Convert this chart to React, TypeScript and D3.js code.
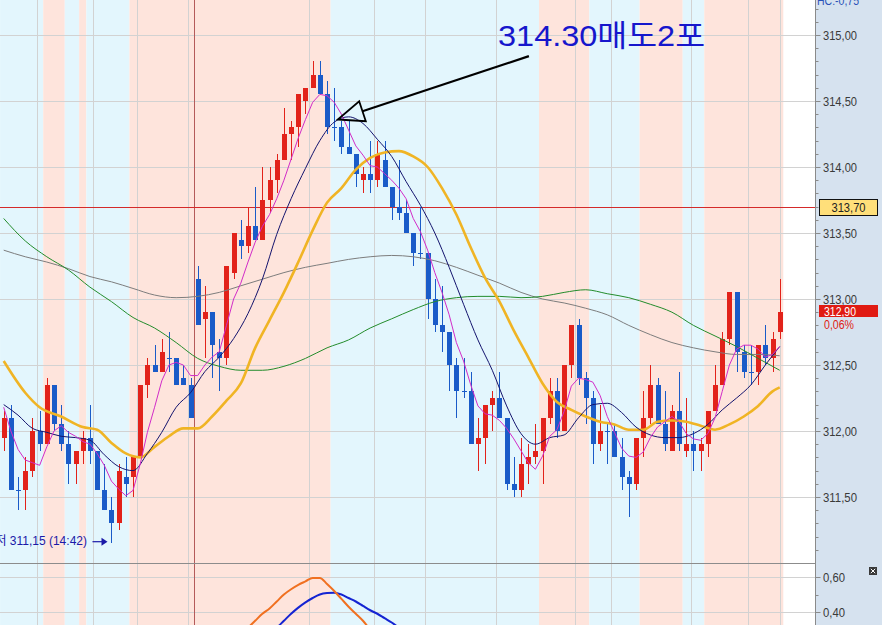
import React from "react";
import * as d3 from "d3";

// KOSPI200-style 1-min candles with moving averages and a sub oscillator panel.

const OPEN = [
  311.95, 312.10, 311.55, 311.55, 311.70, 312.00, 311.90, 312.35, 312.05, 311.90,
  311.75, 311.85, 311.95, 311.85, 311.55, 311.40, 311.30, 311.65, 311.65, 311.80,
  312.35, 312.50, 312.45, 312.55, 312.55, 312.40, 312.35, 313.15, 312.85, 312.90,
  312.60, 312.55, 313.20, 313.45, 313.40, 313.55, 313.45, 313.75, 313.90, 314.05,
  314.25, 314.30, 314.50, 314.60, 314.70, 314.55, 314.30, 314.30, 314.15, 314.10,
  313.90, 313.95, 313.90, 314.05, 313.85, 313.70, 313.65, 313.50, 313.35, 313.35,
  313.00, 312.80, 312.75, 312.50, 312.30, 312.30, 311.90, 311.95, 312.20, 312.25,
  312.10, 311.60, 311.55, 311.75, 311.80, 311.85, 312.10, 312.30, 312.00, 312.50,
  312.80, 312.40, 312.25, 311.90, 312.00, 312.00, 311.80, 311.65, 311.60, 311.95,
  312.10, 312.35, 312.05, 311.85, 312.15, 311.85, 311.90, 311.85, 311.90, 312.15,
  312.35, 312.70, 313.05, 312.60, 312.45, 312.45, 312.65, 312.55, 312.75,
];
const HIGH = [
  312.15, 312.20, 311.65, 311.80, 312.10, 312.15, 312.40, 312.35, 312.20, 312.00,
  311.85, 312.00, 312.20, 311.85, 311.75, 311.50, 311.75, 311.80, 311.80, 312.35,
  312.55, 312.65, 312.70, 312.75, 312.55, 312.50, 312.40, 313.25, 313.10, 312.90,
  312.70, 313.25, 313.50, 313.60, 313.70, 313.85, 314.00, 314.00, 314.10, 314.45,
  314.35, 314.55, 314.60, 314.80, 314.80, 314.65, 314.60, 314.35, 314.35, 314.10,
  314.00, 314.20, 314.20, 314.20, 313.85, 314.05, 313.75, 313.50, 313.70, 313.35,
  313.15, 313.10, 312.75, 312.55, 312.55, 312.45, 312.10, 312.20, 312.30, 312.45,
  312.10, 311.80, 311.95, 311.90, 312.05, 312.10, 312.40, 312.40, 312.50, 312.80,
  312.85, 312.45, 312.30, 312.20, 312.05, 312.05, 311.95, 311.70, 311.95, 312.30,
  312.50, 312.40, 312.30, 312.20, 312.45, 312.25, 312.00, 311.95, 312.15, 312.50,
  312.75, 313.05, 313.05, 312.65, 312.65, 312.65, 312.80, 312.75, 313.15,
];
const LOW = [
  311.85, 311.55, 311.40, 311.40, 311.65, 311.85, 311.90, 312.00, 311.85, 311.60,
  311.60, 311.75, 311.75, 311.55, 311.40, 311.15, 311.25, 311.50, 311.50, 311.80,
  312.25, 312.45, 312.45, 312.45, 312.35, 312.35, 312.10, 312.80, 312.55, 312.40,
  312.30, 312.50, 313.15, 313.30, 313.35, 313.45, 313.45, 313.65, 313.80, 314.05,
  314.05, 314.15, 314.40, 314.60, 314.55, 314.25, 314.20, 314.10, 314.10, 313.85,
  313.80, 313.80, 313.85, 313.85, 313.60, 313.60, 313.50, 313.25, 313.30, 312.85,
  312.75, 312.60, 312.30, 312.10, 312.25, 311.90, 311.70, 311.75, 312.00, 312.10,
  311.55, 311.50, 311.50, 311.60, 311.75, 311.60, 312.05, 311.95, 312.00, 312.40,
  312.35, 312.05, 311.75, 311.85, 311.75, 311.80, 311.55, 311.35, 311.55, 311.80,
  312.05, 312.05, 311.85, 311.85, 311.85, 311.80, 311.70, 311.70, 311.80, 312.15,
  312.35, 312.65, 312.45, 312.40, 312.35, 312.35, 312.50, 312.45, 312.70,
];
const CLOSE = [
  312.10, 311.55, 311.55, 311.70, 312.00, 311.90, 312.35, 312.05, 311.90, 311.75,
  311.85, 311.95, 311.85, 311.55, 311.40, 311.30, 311.70, 311.60, 311.80, 312.35,
  312.50, 312.45, 312.60, 312.55, 312.35, 312.35, 312.10, 312.80, 312.90, 312.65,
  312.55, 313.25, 313.50, 313.40, 313.55, 313.45, 313.75, 313.90, 314.05, 314.25,
  314.30, 314.55, 314.60, 314.70, 314.55, 314.30, 314.30, 314.15, 314.10, 313.95,
  313.95, 313.90, 314.10, 313.85, 313.70, 313.65, 313.50, 313.35, 313.35, 313.00,
  312.80, 312.75, 312.50, 312.30, 312.30, 311.90, 311.95, 312.20, 312.25, 312.10,
  311.60, 311.55, 311.75, 311.80, 311.85, 312.10, 312.30, 312.00, 312.50, 312.80,
  312.40, 312.25, 311.90, 312.00, 312.00, 311.80, 311.65, 311.60, 311.95, 312.10,
  312.35, 312.05, 311.90, 312.15, 311.90, 311.90, 311.85, 311.90, 312.15, 312.35,
  312.70, 313.05, 312.60, 312.45, 312.45, 312.65, 312.55, 312.70, 312.90,
];

// short MA (magenta), one value per candle
const MA5 = [
  312.18, 312.00, 311.86, 311.78, 311.76, 311.74, 311.88, 312.00, 312.04, 311.99,
  311.96, 311.92, 311.90, 311.83, 311.74, 311.62, 311.56, 311.51, 311.55, 311.75,
  311.99, 312.18, 312.38, 312.50, 312.52, 312.50, 312.42, 312.42, 312.50, 312.56,
  312.60, 312.80, 313.00, 313.12, 313.28, 313.43, 313.55, 313.64, 313.76, 313.90,
  314.06, 314.22, 314.36, 314.49, 314.55, 314.54, 314.49, 314.40, 314.28, 314.16,
  314.09, 314.01, 314.00, 313.95, 313.90, 313.84, 313.76, 313.61, 313.51, 313.37,
  313.20, 313.05, 312.88, 312.67, 312.53, 312.35, 312.19, 312.13, 312.12, 312.08,
  312.02, 311.94, 311.85, 311.76, 311.71, 311.81, 311.96, 312.01, 312.15, 312.34,
  312.40, 312.39, 312.37, 312.27, 312.11, 311.99, 311.87, 311.81, 311.80, 311.84,
  311.95, 312.03, 312.07, 312.11, 312.07, 311.98, 311.94, 311.93, 311.98, 312.10,
  312.30, 312.50, 312.62, 312.65, 312.65, 312.62, 312.56, 312.58, 312.64,
];

// [candle index, value]
const MA10: [number, number][] = [
  [0, 312.2], [2, 312.12], [4, 312.02], [6, 311.99], [8, 311.96], [10, 311.95], [12, 311.93],
  [14, 311.82], [16, 311.73], [18, 311.7], [20, 311.83], [22, 311.99], [24, 312.18], [26, 312.29],
  [28, 312.45], [30, 312.56], [32, 312.7], [34, 312.89], [36, 313.15], [38, 313.49], [40, 313.76],
  [42, 313.99], [44, 314.2], [46, 314.34], [48, 314.38], [50, 314.33], [52, 314.21], [54, 314.08],
  [56, 313.89], [58, 313.71], [60, 313.5], [62, 313.24], [64, 312.96], [66, 312.69], [68, 312.46],
  [70, 312.19], [72, 311.98], [74, 311.9], [76, 311.95], [78, 311.97], [80, 312.1], [82, 312.2],
  [84, 312.21], [86, 312.14], [88, 312.03], [90, 311.97], [92, 311.95], [94, 311.95], [96, 311.98],
  [98, 312.05], [100, 312.16], [102, 312.25], [104, 312.35], [106, 312.5], [108, 312.64],
];
const MA20: [number, number][] = [
  [0, 312.53], [3, 312.29], [5, 312.18], [8, 312.11], [11, 312.03], [13, 312.01], [15, 311.91],
  [17, 311.83], [19, 311.8], [21, 311.88], [23, 311.96], [25, 312.02], [27, 312.02], [29, 312.11],
  [31, 312.23], [33, 312.36], [35, 312.63], [37, 312.84], [39, 313.05], [41, 313.28], [43, 313.52],
  [45, 313.73], [47, 313.84], [49, 313.98], [51, 314.07], [53, 314.11], [55, 314.12], [57, 314.08],
  [59, 314.0], [61, 313.84], [63, 313.64], [65, 313.39], [67, 313.16], [69, 312.98], [71, 312.76],
  [73, 312.56], [75, 312.36], [77, 312.22], [79, 312.16], [81, 312.11], [83, 312.07], [85, 312.05],
  [87, 312.01], [89, 312.01], [91, 312.07], [93, 312.08], [95, 312.07], [97, 312.04], [99, 312.01],
  [101, 312.05], [103, 312.11], [105, 312.19], [107, 312.3], [108, 312.33],
];
const MA60: [number, number][] = [
  [0, 313.61], [3, 313.44], [6, 313.32], [9, 313.22], [12, 313.09], [15, 312.98], [18, 312.86],
  [21, 312.78], [24, 312.67], [27, 312.55], [30, 312.49], [33, 312.46], [36, 312.46], [39, 312.49],
  [42, 312.55], [45, 312.63], [48, 312.69], [51, 312.78], [54, 312.85], [57, 312.92], [60, 312.98],
  [63, 313.01], [66, 313.02], [69, 313.02], [72, 313.01], [75, 313.02], [78, 313.05], [81, 313.07],
  [84, 313.04], [87, 313.01], [90, 312.96], [93, 312.9], [96, 312.8], [99, 312.72], [102, 312.64],
  [105, 312.55], [108, 312.46],
];
const MA120: [number, number][] = [
  [0, 313.37], [3, 313.32], [6, 313.28], [9, 313.23], [12, 313.17], [15, 313.13], [18, 313.08],
  [21, 313.03], [24, 313.01], [27, 313.02], [30, 313.05], [33, 313.1], [36, 313.15], [39, 313.2],
  [42, 313.24], [45, 313.27], [48, 313.3], [51, 313.32], [54, 313.33], [57, 313.32], [60, 313.29],
  [63, 313.24], [66, 313.18], [69, 313.12], [72, 313.05], [75, 313.0], [78, 312.97], [81, 312.93],
  [84, 312.88], [87, 312.8], [90, 312.73], [93, 312.67], [96, 312.63], [99, 312.6], [102, 312.58],
  [105, 312.58], [108, 312.57],
];

// sub panel oscillator
const OSC_FAST: [number, number][] = [
  [31, 0.2], [32, 0.24], [33, 0.27], [34, 0.31], [35, 0.35], [36, 0.39], [37, 0.42], [38, 0.46],
  [39, 0.5], [40, 0.53], [41, 0.555], [42, 0.575], [43, 0.595], [44, 0.595], [45, 0.56], [46, 0.52],
  [47, 0.475], [48, 0.43], [49, 0.39], [50, 0.35], [51, 0.3], [52, 0.26], [53, 0.22],
];
const OSC_SLOW: [number, number][] = [
  [34, 0.17], [35, 0.2], [36, 0.24], [37, 0.28], [38, 0.31], [39, 0.35], [40, 0.39], [41, 0.425],
  [42, 0.455], [43, 0.48], [44, 0.5], [45, 0.508], [46, 0.51], [47, 0.5], [48, 0.48], [49, 0.46],
  [50, 0.435], [51, 0.41], [52, 0.39], [53, 0.365], [54, 0.34], [55, 0.31], [56, 0.28], [57, 0.25],
];

// background regime bands [from, to, kind] in candle-index units
const BANDS: [number, number, "up" | "dn"][] = [
  [-0.5, 5.5, "dn"], [5.5, 8.5, "up"], [8.5, 10.5, "dn"], [10.5, 11.5, "up"], [11.5, 17.5, "dn"],
  [17.5, 45.5, "up"], [45.5, 74.5, "dn"], [74.5, 81.5, "up"], [81.5, 88.5, "dn"], [88.5, 94.5, "up"],
  [94.5, 97.5, "dn"], [97.5, 108.5, "up"],
];
const TIME_GRID = [4.7, 12.4, 18.5, 25.7, 42.5, 51.5, 58.6, 68.5, 79.5, 84.5, 95.6, 103.6, 108.1];
const SESSION_BREAK = 26.5;

const PRICE_MAJOR = [311.5, 312, 312.5, 313, 313.5, 314, 314.5, 315];
const OSC_MAJOR = [0.4, 0.6];
const REF_PRICE = 313.7;
const LAST_PRICE = 312.9;
const LAST_CHANGE = "0,06%";
const TOP_INFO = "HC:-0,75";

const NOTE = { text: "314.30매도2포", textAt: [68.8, 314.92], tip: [46.5, 314.36], tail: [73.1, 314.84] };
const LOW_MARK = { idx: 15, label: "최저 311,15 (14:42)" };

const W = 882;
const H = 625;
const AXIS_X = 815;
const MAIN_BOTTOM = 563;

const RED = "#e2221a";
const BLUE = "#1a5bc8";
const PINK = "#fee4dc";
const SKY = "#e3f6fd";
const GRID = "#d2d2d2";
const FONT = "'Liberation Sans', 'Noto Sans CJK KR', sans-serif";

const fmt = (v: number) => d3.format(".2f")(v).replace(".", ",");

export default function App() {
  const x = d3.scaleLinear().domain([0, 108]).range([3.7, 779.7]);
  const y = d3.scaleLinear().domain([311, 315]).range([MAIN_BOTTOM, 35]);
  const yo = d3.scaleLinear().domain([0.4, 0.6]).range([612, 577]);

  const pairLine = d3
    .line<[number, number]>()
    .x((d) => x(d[0]))
    .y((d) => y(d[1]))
    .curve(d3.curveMonotoneX);
  const ma5Line = d3
    .line<number>()
    .x((_, i) => x(i))
    .y((v) => y(v));
  const oscLine = d3
    .line<[number, number]>()
    .x((d) => x(d[0]))
    .y((d) => yo(d[1]))
    .curve(d3.curveMonotoneX);

  const minorTicks = d3.range(3109, 3154).map((v) => v / 10).filter((v) => y(v) > 0 && y(v) < MAIN_BOTTOM);

  // annotation arrow geometry
  const tipX = x(NOTE.tip[0]);
  const tipY = y(NOTE.tip[1]);
  const tailX = x(NOTE.tail[0]);
  const tailY = y(NOTE.tail[1]);
  const len = Math.hypot(tailX - tipX, tailY - tipY);
  const ux = (tailX - tipX) / len;
  const uy = (tailY - tipY) / len;
  const headL = 26;
  const headW = 10.5;
  const bx = tipX + ux * headL;
  const by = tipY + uy * headL;
  const head = `M${tipX},${tipY}L${bx - uy * headW},${by + ux * headW}L${bx + uy * headW},${by - ux * headW}Z`;

  const lowX = x(LOW_MARK.idx);
  const lowY = y(LOW[LOW_MARK.idx]) - 2;

  return (
    <svg
      width={W}
      height={H}
      style={{ position: "absolute", left: 0, top: 0, background: "#fff" }}
      fontFamily={FONT}
    >
      <defs>
        <clipPath id="mainClip">
          <rect x={0} y={0} width={AXIS_X} height={MAIN_BOTTOM} />
        </clipPath>
        <clipPath id="subClip">
          <rect x={0} y={MAIN_BOTTOM} width={AXIS_X} height={H - MAIN_BOTTOM} />
        </clipPath>
        <clipPath id="plotClip">
          <rect x={0} y={0} width={AXIS_X} height={H} />
        </clipPath>
      </defs>

      <g clipPath="url(#plotClip)">
        {BANDS.map(([a, b, k], i) => (
          <rect
            key={i}
            x={Math.max(0, x(a))}
            y={0}
            width={x(b) - Math.max(0, x(a))}
            height={H}
            fill={k === "up" ? PINK : SKY}
          />
        ))}
        {PRICE_MAJOR.map((p) => (
          <line key={p} x1={0} x2={AXIS_X} y1={Math.round(y(p)) + 0.5} y2={Math.round(y(p)) + 0.5} stroke={GRID} />
        ))}
        {OSC_MAJOR.map((v) => (
          <line key={v} x1={0} x2={AXIS_X} y1={Math.round(yo(v)) + 0.5} y2={Math.round(yo(v)) + 0.5} stroke={GRID} />
        ))}
        {TIME_GRID.map((t) => (
          <line key={t} x1={Math.round(x(t)) + 0.5} x2={Math.round(x(t)) + 0.5} y1={0} y2={H} stroke={GRID} />
        ))}
        <line
          x1={Math.round(x(SESSION_BREAK)) + 0.5}
          x2={Math.round(x(SESSION_BREAK)) + 0.5}
          y1={0}
          y2={H}
          stroke="#b45a5a"
        />
        <line
          x1={0}
          x2={AXIS_X}
          y1={Math.round(y(REF_PRICE)) + 0.5}
          y2={Math.round(y(REF_PRICE)) + 0.5}
          stroke="#d42a2a"
        />
      </g>

      {/* candles */}
      <g clipPath="url(#mainClip)">
        {OPEN.map((o, i) => {
          const c = CLOSE[i];
          const col = c > o ? RED : BLUE;
          const cx = Math.round(x(i));
          const top = Math.round(y(Math.max(o, c)));
          const bot = Math.round(y(Math.min(o, c)));
          return (
            <g key={i}>
              <line
                x1={cx + 0.5}
                x2={cx + 0.5}
                y1={Math.round(y(HIGH[i]))}
                y2={Math.round(y(LOW[i]))}
                stroke={col}
              />
              <rect x={cx - 2} y={top} width={5} height={Math.max(1, bot - top)} fill={col} />
            </g>
          );
        })}

        <path d={pairLine(MA120) ?? ""} fill="none" stroke="#7d7d7d" strokeWidth={1} />
        <path d={pairLine(MA60) ?? ""} fill="none" stroke="#238c2b" strokeWidth={1} />
        <path d={pairLine(MA20) ?? ""} fill="none" stroke="#f0b424" strokeWidth={2.6} />
        <path d={pairLine(MA10) ?? ""} fill="none" stroke="#14146e" strokeWidth={1} />
        <path d={ma5Line(MA5) ?? ""} fill="none" stroke="#d22cc8" strokeWidth={1} />

        {/* sell note */}
        <line x1={tailX} y1={tailY} x2={bx} y2={by} stroke="#000" strokeWidth={2.2} />
        <path d={head} fill="none" stroke="#000" strokeWidth={1.8} strokeLinejoin="miter" />
        <text
          x={x(NOTE.textAt[0])}
          y={y(NOTE.textAt[1])}
          fontSize={30}
          fill="#1616cc"
          textLength={207}
          lengthAdjust="spacingAndGlyphs"
        >
          {NOTE.text}
        </text>

        {/* session low */}
        <text x={lowX - 24.5} y={lowY} dy="0.35em" fontSize={12} fill="#1a1aa8" textAnchor="end">
          {LOW_MARK.label}
        </text>
        <line x1={lowX - 19} x2={lowX - 9} y1={lowY + 0.5} y2={lowY + 0.5} stroke="#1a1aa8" strokeWidth={1.2} />
        <path d={`M${lowX - 10},${lowY - 3.5}L${lowX - 4},${lowY + 0.5}L${lowX - 10},${lowY + 4.5}Z`} fill="#1a1aa8" />
      </g>

      {/* sub panel */}
      <g clipPath="url(#subClip)">
        <path d={oscLine(OSC_SLOW) ?? ""} fill="none" stroke="#1424d2" strokeWidth={2} />
        <path d={oscLine(OSC_FAST) ?? ""} fill="none" stroke="#f07020" strokeWidth={2} />
      </g>
      <line x1={0} x2={AXIS_X} y1={MAIN_BOTTOM + 0.5} y2={MAIN_BOTTOM + 0.5} stroke="#8c8c8c" />

      {/* right axis */}
      <rect x={AXIS_X} y={0} width={W - AXIS_X} height={H} fill="#d6e2ef" />
      <line x1={AXIS_X + 0.5} x2={AXIS_X + 0.5} y1={0} y2={H} stroke="#8a8a8a" />
      <text x={AXIS_X + 2} y={5} fontSize={12} fill="#2a52b8" textLength={42} lengthAdjust="spacingAndGlyphs">
        {TOP_INFO}
      </text>
      {minorTicks.map((v) => (
        <line
          key={v}
          x1={AXIS_X}
          x2={AXIS_X + 3.5}
          y1={Math.round(y(v)) + 0.5}
          y2={Math.round(y(v)) + 0.5}
          stroke="#8a8a8a"
        />
      ))}
      {PRICE_MAJOR.map((p) => (
        <g key={p}>
          <line
            x1={AXIS_X}
            x2={AXIS_X + 5.5}
            y1={Math.round(y(p)) + 0.5}
            y2={Math.round(y(p)) + 0.5}
            stroke="#8a8a8a"
          />
          <text
            x={AXIS_X + 8}
            y={y(p)}
            dy="0.36em"
            fontSize={12.5}
            fill="#3a3a3a"
            textLength={34}
            lengthAdjust="spacingAndGlyphs"
          >
            {fmt(p)}
          </text>
        </g>
      ))}
      {OSC_MAJOR.map((v) => (
        <g key={v}>
          <line
            x1={AXIS_X}
            x2={AXIS_X + 5.5}
            y1={Math.round(yo(v)) + 0.5}
            y2={Math.round(yo(v)) + 0.5}
            stroke="#8a8a8a"
          />
          <text
            x={AXIS_X + 8}
            y={yo(v)}
            dy="0.36em"
            fontSize={12.5}
            fill="#3a3a3a"
            textLength={22}
            lengthAdjust="spacingAndGlyphs"
          >
            {fmt(v)}
          </text>
        </g>
      ))}
      <line x1={AXIS_X} x2={AXIS_X + 3.5} y1={Math.round(yo(0.5)) + 0.5} y2={Math.round(yo(0.5)) + 0.5} stroke="#8a8a8a" />

      {/* reference price tag */}
      <rect
        x={819.5}
        y={Math.round(y(REF_PRICE)) - 7.5}
        width={58}
        height={16}
        fill="#ffdf7a"
        stroke="#111"
      />
      <text
        x={848.5}
        y={y(REF_PRICE) + 0.5}
        dy="0.36em"
        fontSize={12.5}
        fill="#222"
        textAnchor="middle"
        textLength={34}
        lengthAdjust="spacingAndGlyphs"
      >
        {fmt(REF_PRICE)}
      </text>

      {/* last price tag */}
      <rect x={819} y={Math.round(y(LAST_PRICE)) - 7} width={59} height={12} fill="#e01a12" />
      <text
        x={824}
        y={y(LAST_PRICE) - 1}
        dy="0.36em"
        fontSize={12}
        fill="#fff"
        textLength={32}
        lengthAdjust="spacingAndGlyphs"
      >
        {fmt(LAST_PRICE)}
      </text>
      <text
        x={824}
        y={y(LAST_PRICE) + 12}
        dy="0.36em"
        fontSize={12}
        fill="#e01a12"
        textLength={30}
        lengthAdjust="spacingAndGlyphs"
      >
        {LAST_CHANGE}
      </text>

      {/* panel close box */}
      <rect x={869} y={567} width={8} height={8} fill="#3a3a3a" />
      <path d="M870.8,568.8L875.2,573.2M875.2,568.8L870.8,573.2" stroke="#fff" strokeWidth={1} />
    </svg>
  );
}
